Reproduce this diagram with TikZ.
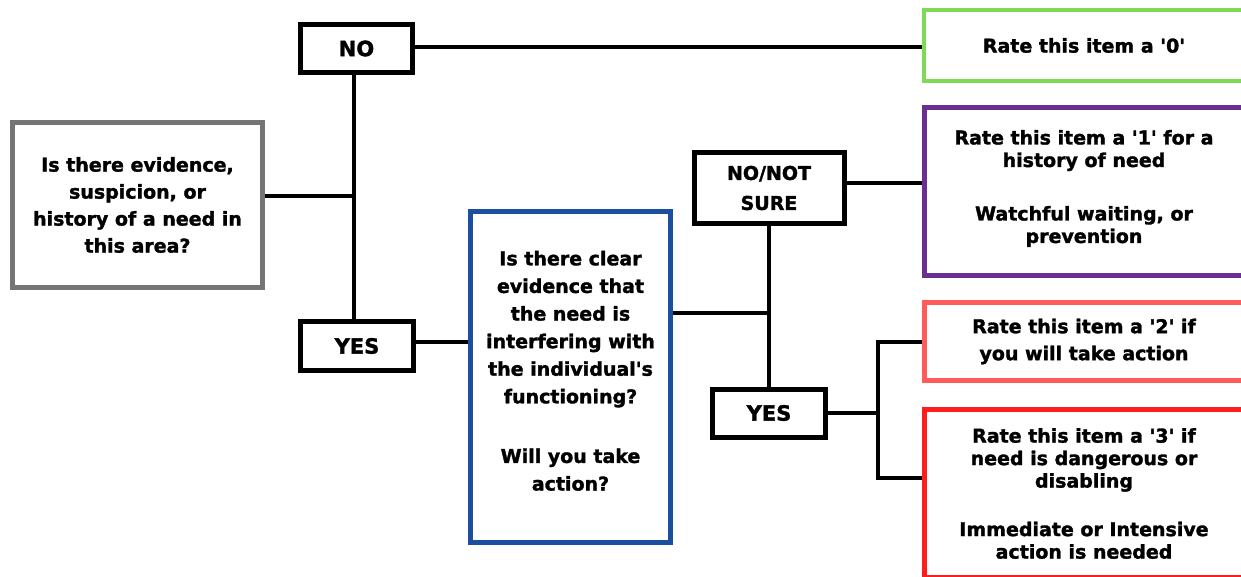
\documentclass[tikz,border=0pt]{standalone}
\usepackage{fontspec}
\setmainfont{DejaVu Sans}[BoldFeatures={FakeBold=1.6}]
\usetikzlibrary{backgrounds}
\definecolor{cgray}{HTML}{757575}
\definecolor{cgreen}{HTML}{7ED957}
\definecolor{cpurple}{HTML}{6A2D91}
\definecolor{cblue}{HTML}{1A4FA0}
\definecolor{cpink}{HTML}{FF5B5B}
\definecolor{cred}{HTML}{FF1C1C}
\newcommand{\q}{\textquotesingle}
\tikzset{
  box/.style={draw, fill=white, line width=5pt, align=center, inner sep=0pt,
    font=\bfseries\fontsize{19}{27}\selectfont},
  tight/.style={font=\bfseries\fontsize{19}{22.5}\selectfont},
  ans/.style={box, draw=black, font=\bfseries\fontsize{21}{30}\selectfont},
  conn/.style={draw=black, line width=4pt}
}
\begin{document}
\begin{tikzpicture}[x=1pt,y=-1pt]
\clip (0,0) rectangle (1241,576);

\node[box, draw=cgray, minimum width=250pt, minimum height=165pt] (q1) at (137.5,205)
  {Is there evidence,\\suspicion, or\\history of a need in\\this area?};
\node[ans, minimum width=112pt, minimum height=48pt] (no) at (356.5,48.5) {NO};
\node[ans, minimum width=113pt, minimum height=49pt] (yes) at (357,346) {YES};
\node[box, draw=cgreen, line width=4.5pt, minimum width=320pt, minimum height=71pt] (r0) at (1084,45.5)
  {Rate this item a \q0\q};
\node[box, tight, draw=cpurple, minimum width=320pt, minimum height=168pt] (r1) at (1084,191.5)
  {Rate this item a \q1\q\ for a\\history of need\\[31pt]Watchful waiting, or\\prevention\\[-12.5pt]\mbox{}};
\node[box, draw=cblue, font=\bfseries\fontsize{19}{27.6}\selectfont, minimum width=200pt, minimum height=331pt] (q2) at (570.5,377)
  {Is there clear\\evidence that\\the need is\\interfering with\\the individual\q s\\functioning?\\[32pt]Will you take\\action?\\[-15pt]\mbox{}};
\node[box, draw=black, font=\bfseries\fontsize{19}{30}\selectfont, minimum width=150pt, minimum height=71pt] (ns) at (769,188)
  {NO/NOT\\SURE};
\node[ans, minimum width=113pt, minimum height=48pt] (yes2) at (769,413) {YES};
\node[box, draw=cpink, minimum width=320pt, minimum height=78pt] (r2) at (1084,341.5)
  {Rate this item a \q2\q\ if\\you will take action};
\node[box, tight, draw=cred, minimum width=320pt, minimum height=168pt] (r3) at (1084,493.5)
  {Rate this item a \q3\q\ if\\need is dangerous or\\disabling\\[26pt]Immediate or Intensive\\action is needed};

\coordinate (j1) at (354,196);
\coordinate (j2) at (769,313);
\coordinate (j3) at (878,413);
\coordinate (j3t) at (878,342);
\coordinate (j3b) at (878,478);

\begin{pgfonlayer}{background}
\fill[white] (0,0) rectangle (1241,576);
\draw[conn] (no.east |- 0,47) -- (r0.west |- 0,47);
\draw[conn] (no.south -| j1) -- (yes.north -| j1);
\draw[conn] (q1.east |- j1) -- (j1);
\draw[conn] (yes.east |- 0,342) -- (q2.west |- 0,342);
\draw[conn] (q2.east |- j2) -- (j2);
\draw[conn] (ns.south) -- (yes2.north);
\draw[conn] (ns.east |- 0,183) -- (r1.west |- 0,183);
\draw[conn] (yes2.east) -- (j3);
\draw[conn, line cap=rect] (j3t) -- (j3b);
\draw[conn] (j3t) -- (r2.west |- j3t);
\draw[conn] (j3b) -- (r3.west |- j3b);
\end{pgfonlayer}
\end{tikzpicture}
\end{document}
